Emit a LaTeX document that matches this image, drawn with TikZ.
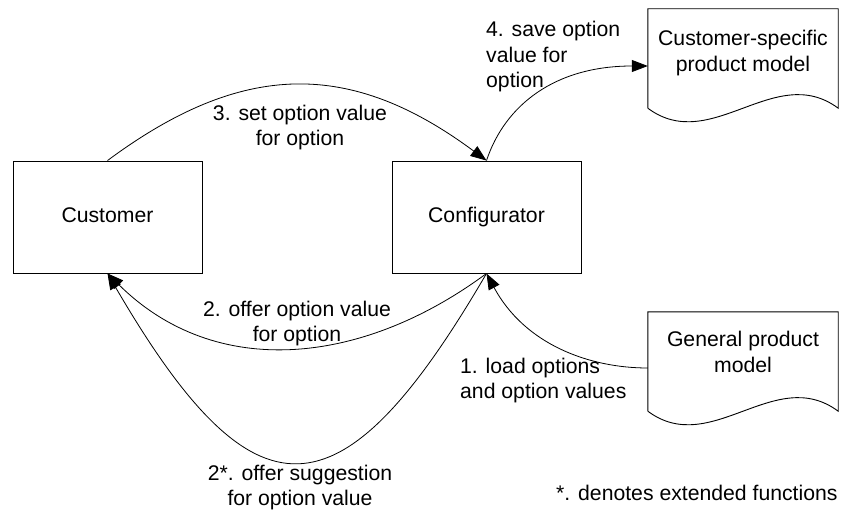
\documentclass[tikz,border=0pt]{standalone}
\usepackage{fontspec}
\setmainfont{Liberation Sans}
\usetikzlibrary{arrows.meta,calc}
\begin{document}
\begin{tikzpicture}[x=1pt,y=-1pt,
  every node/.style={font=\fontsize{21.2}{25.5}\selectfont},
  procbox/.style={draw=black,line width=0.9pt,minimum width=189pt,minimum height=112pt,inner sep=0pt,text height=15.2pt,text depth=4.5pt},
  docshape/.style={minimum width=190pt,minimum height=99pt,inner sep=0pt},
  doctext/.style={align=center,inner sep=0pt},
  lblc/.style={align=center,inner sep=0pt},
  lbll/.style={align=left,inner sep=0pt,anchor=west},
  flow/.style={line width=0.8pt,-{Triangle[length=16pt,width=12pt]}},
  docline/.style={line width=0.9pt}]
\useasboundingbox (0,0) rectangle (842,511);
% process boxes
\node[procbox] (cust) at (107.5,217) {Customer};
\node[procbox] (conf) at (486.5,217) {Configurator};
% documents
\node[docshape,label={[doctext,yshift=5.5pt]center:{Customer-specific\\product model}}] (csp) at (743,58.5) {};
\node[docshape,label={[doctext,yshift=9.5pt]center:{General product\\model}}] (gpm) at (743,361.5) {};
\draw[docline] (csp.south west) -- (csp.north west) -- (csp.north east) -- (csp.south east)
  .. controls ($(csp.south east)+(-63.3,-47)$) and ($(csp.south west)+(63.3,47)$) .. (csp.south west);
\draw[docline] (gpm.south west) -- (gpm.north west) -- (gpm.north east) -- (gpm.south east)
  .. controls ($(gpm.south east)+(-63.3,-47)$) and ($(gpm.south west)+(63.3,47)$) .. (gpm.south west);
% connectors
\draw[flow] (cust.north) .. controls (243,60) and (351,60) .. (conf.north);
\draw[flow] (conf.north) .. controls (505,105) and (555,66) .. ([yshift=-7.5pt]csp.west);
\draw[flow] ([yshift=-6.5pt]gpm.west) .. controls (590,368) and (525,345) .. (conf.south);
\draw[flow] (conf.south) .. controls (363,365) and (216,381) .. (cust.south);
\draw[flow] (conf.south) .. controls (340,525) and (254,525) .. (cust.south);
% labels
\node[lblc] (l3) at (300,127.7) {3. set option value\\for option};
\node[lbll] (l4) at (486,56.7) {4. save option\\value for\\option};
\node[lbll] (l1) at (460,380.5) {1. load options\\and option values};
\node[lblc] (l2) at (297,323.6) {2. offer option value\\for option};
\node[lblc] (l2s) at (300,487.5) {2*. offer suggestion\\for option value};
\node[inner sep=0pt,anchor=base west] (note) at (556,500) {*. denotes extended functions};
\end{tikzpicture}
\end{document}
